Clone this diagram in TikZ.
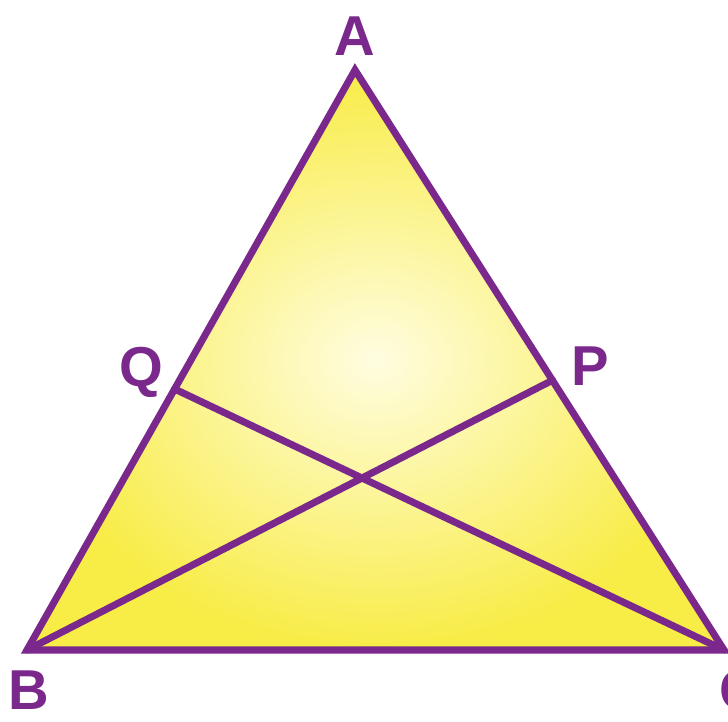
\documentclass[tikz,border=0pt]{standalone}
\usepackage{fontspec}
\setmainfont{Liberation Sans}
\usetikzlibrary{calc}
\begin{document}
\begin{tikzpicture}[x=0.02cm,y=-0.02cm,
  edge/.style={draw=purp,line width=4pt,line join=miter,line cap=round},
  lbl/.style={text=purp,font=\fontsize{32}{32}\selectfont\bfseries,inner sep=0pt}]
\definecolor{purp}{RGB}{122,40,140}
\definecolor{yin}{RGB}{255,253,225}
\definecolor{yout}{RGB}{248,236,70}
\useasboundingbox (0,0) rectangle (728,722);
\coordinate (A) at (355,70);
\coordinate (B) at (27,650);
\coordinate (C) at (724,650);
\coordinate (Q) at ($(A)!0.55!(B)$);
\coordinate (P) at ($(A)!0.535!(C)$);
\shade[inner color=yin,outer color=yout] (A) -- (B) -- (C) -- cycle;
\draw[edge] (B) -- (P);
\draw[edge] (C) -- (Q);
\draw[edge] (A) -- (B) -- (C) -- cycle;
\node[lbl] (la) at (355,36) {A};
\node[lbl] (lq) at (141,372) {Q};
\node[lbl] (lp) at (590,366) {P};
\node[lbl] (lb) at (29,690) {B};
\node[lbl] (lc) at (740,690) {C};
\end{tikzpicture}
\end{document}
